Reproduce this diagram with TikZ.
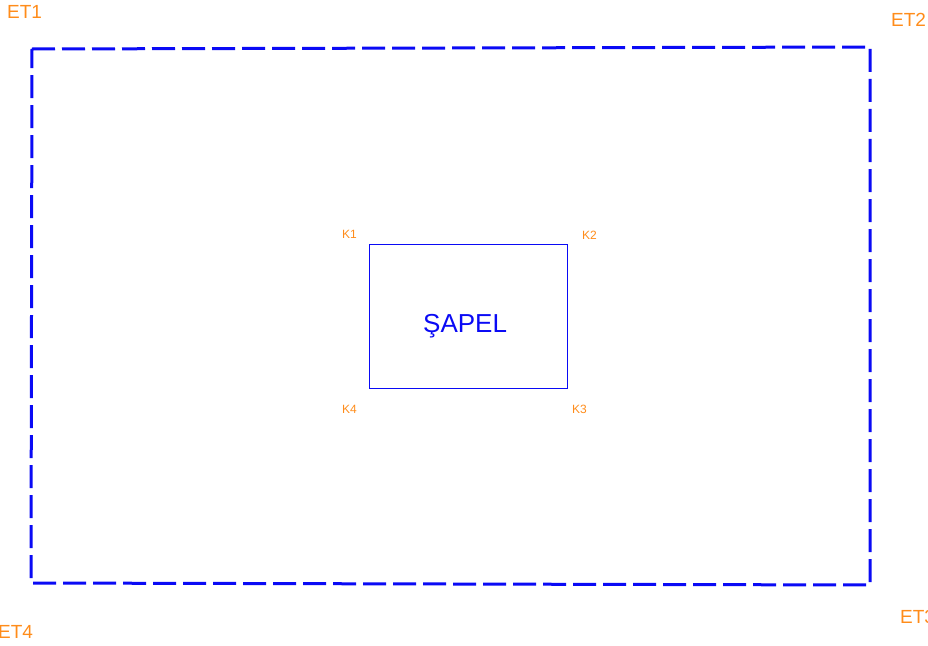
\documentclass[tikz,border=0pt]{standalone}
\usepackage{fontspec}
\setmainfont{Liberation Sans}
\definecolor{lbl}{RGB}{255,140,26}
\definecolor{wall}{RGB}{10,10,245}
\begin{document}
\begin{tikzpicture}[x=1pt,y=-1pt,
  boundary/.style={draw=wall,line width=3pt,dash pattern=on 23pt off 7pt},
  room/.style={draw=wall,line width=1pt},
  etlabel/.style={text=lbl,inner sep=0pt,anchor=base west,font=\fontsize{19}{22}\selectfont},
  klabel/.style={text=lbl,inner sep=0pt,anchor=base west,font=\fontsize{12}{14}\selectfont},
  roomlabel/.style={text=wall,inner sep=0pt,anchor=base west,font=\fontsize{26}{30}\selectfont}]
\useasboundingbox (0,0) rectangle (928,645);
% outer boundary
\coordinate (c1) at (32,49);
\coordinate (c2) at (870,47);
\coordinate (c3) at (870,585);
\coordinate (c4) at (31,583);
\draw[boundary] (c1) -- (c2) -- (c3) -- (c4) -- cycle;
\node[etlabel] (et1) at (7,18) {ET1};
\node[etlabel] (et2) at (891,27) {ET2};
\node[etlabel] (et3) at (900,623) {ET3};
\node[etlabel] (et4) at (-2,638) {ET4};
% chapel
\coordinate (k1) at (369,244);
\coordinate (k2) at (567,244);
\coordinate (k3) at (567,388);
\coordinate (k4) at (369,388);
\draw[room] (k1) -- (k2) -- (k3) -- (k4) -- cycle;
\node[klabel] (lk1) at (342,238) {K1};
\node[klabel] (lk2) at (582,239) {K2};
\node[klabel] (lk3) at (572,413) {K3};
\node[klabel] (lk4) at (342,413) {K4};
\node[roomlabel] (sapel) at (423,332) {ŞAPEL};
\end{tikzpicture}
\end{document}
